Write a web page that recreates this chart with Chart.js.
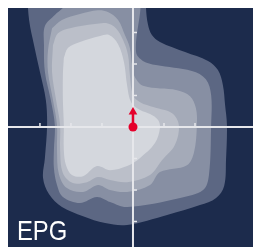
<!DOCTYPE html>
<html>
<head>
<meta charset="utf-8">
<script src="https://cdn.jsdelivr.net/npm/chart.js@4/dist/chart.umd.min.js"></script>
<style>
  html, body { margin: 0; padding: 0; background: #fff; }
</style>
</head>
<body>
<canvas id="epgChart" width="255" height="250"></canvas>
<script>
// contour levels, outer to inner, as [x, y] in axis units
const level1 = [[-3.42, 4.35], [0.42, 4.35], [0.42, 3.78], [0.48, 3.27], [0.61, 2.92], [0.87, 2.7], [1.68, 2.38],
  [2.42, 2.1], [2.74, 1.81], [2.9, 1.33], [2.97, 0.7], [3.03, 0.06], [3.0, -1.05], [2.94, -1.87], [2.68, -2.25],
  [2.16, -2.48], [1.1, -2.79], [-0.19, -3.11], [-0.9, -3.05], [-1.61, -2.83], [-2.29, -2.54], [-2.71, -2.13],
  [-2.9, -1.62], [-2.84, -0.98], [-2.77, 0.06], [-2.81, 0.86], [-3.0, 1.75], [-3.19, 2.6], [-3.35, 3.4], [-3.42, 4.35]];
const level2 = [[-2.03, 4.35], [0.1, 4.35], [0.1, 2.38], [0.32, 2.1], [0.74, 1.97], [1.9, 1.78], [2.35, 1.52],
  [2.52, 1.02], [2.52, 0.06], [2.45, -1.52], [2.26, -2.0], [1.52, -2.25], [-0.19, -2.54], [-0.74, -2.38],
  [-1.16, -2.22], [-1.71, -2.41], [-2.26, -2.22], [-2.45, -1.84], [-2.55, -1.3], [-2.55, -0.73], [-2.52, 0.06],
  [-2.65, 0.86], [-2.84, 1.75], [-2.87, 2.6], [-2.84, 3.21], [-2.52, 3.56], [-2.19, 3.87], [-2.03, 4.35]];
const level3 = [[-2.61, 3.14], [-2.29, 3.4], [-1.71, 3.59], [-1.13, 3.71], [-0.81, 3.65], [-0.48, 3.4], [-0.26, 2.92],
  [-0.1, 2.51], [-0.03, 1.97], [0.06, 1.59], [0.35, 1.3], [1.42, 1.17], [1.84, 0.98], [2.03, 0.6], [2.06, 0.06],
  [1.97, -0.79], [1.74, -1.21], [0.87, -1.43], [0.55, -1.84], [-0.19, -2.06], [-0.74, -2.0], [-1.13, -1.84],
  [-1.61, -2.06], [-2.13, -1.94], [-2.39, -1.49], [-2.45, -0.73], [-2.45, 0.06], [-2.58, 0.86], [-2.74, 1.75],
  [-2.74, 2.44], [-2.61, 3.14]];
const level4 = [[-2.58, 2.6], [-2.42, 2.98], [-2.03, 3.14], [-1.23, 3.27], [-0.87, 3.3], [-0.55, 3.14], [-0.32, 2.76],
  [-0.16, 2.29], [-0.1, 1.65], [0.0, 1.02], [0.23, 0.79], [0.68, 0.63], [1.26, 0.44], [1.48, 0.06], [1.35, -0.57],
  [0.94, -1.05], [0.55, -1.52], [-0.19, -1.75], [-0.74, -1.68], [-1.13, -1.59], [-1.48, -1.75], [-1.94, -1.78],
  [-2.26, -1.46], [-2.35, -0.73], [-2.35, 0.06], [-2.48, 0.86], [-2.61, 1.75], [-2.58, 2.6]];
const level5 = [[-2.23, 2.19], [-2.1, 2.51], [-1.71, 2.7], [-1.06, 2.89], [-0.77, 2.92], [-0.48, 2.63], [-0.29, 2.06],
  [-0.19, 1.33], [-0.06, 0.79], [0.23, 0.54], [0.55, 0.41], [0.81, 0.22], [0.87, -0.03], [0.71, -0.51],
  [0.23, -0.98], [-0.19, -1.24], [-0.74, -1.37], [-1.16, -1.24], [-1.61, -1.56], [-1.97, -1.52], [-2.16, -1.21],
  [-2.23, -0.73], [-2.23, 0.06], [-2.26, 0.86], [-2.26, 1.65], [-2.23, 2.19]];
const levelColors = ["#5c6783", "#878fa3", "#a4aab8", "#bbbfc9", "#d4d7dd"];

const centre = [0, 0];
const arrowTip = [0, 0.48];
const arrowStem = [[0, 0], [0, 0.45]];

const xTicks = [-3, -2, -1, 1, 2];
const yTicks = [-3, -2, -1, 1, 2, 3];
const xRange = [-4.03, 3.87];
const yRange = [-3.81, 3.78];

const toPoints = (arr) => arr.map((p) => ({ x: p[0], y: p[1] }));

function levelSet(arr, color) {
  return {
    label: "level",
    data: toPoints(arr),
    backgroundColor: color,
    borderWidth: 0,
    pointRadius: 0,
    fill: "shape",
    tension: 0.35,
  };
}

const epgPlugin = {
  id: "epgPlugin",
  beforeDatasetsDraw(chart) {
    const { ctx, chartArea } = chart;
    ctx.save();
    ctx.fillStyle = "#1c2b4c";
    ctx.fillRect(chartArea.left, chartArea.top, chartArea.width, chartArea.height);
    ctx.restore();
  },
  beforeDatasetDraw(chart, args) {
    if (chart.data.datasets[args.index].label !== "Direction") return;
    const { ctx, chartArea } = chart;
    const sx = chart.scales.x;
    const sy = chart.scales.y;
    const x0 = sx.getPixelForValue(0);
    const y0 = sy.getPixelForValue(0);
    ctx.save();
    ctx.strokeStyle = "#e6e7eb";
    ctx.lineWidth = 2;
    ctx.beginPath();
    ctx.moveTo(chartArea.left, y0);
    ctx.lineTo(chartArea.right, y0);
    ctx.moveTo(x0, chartArea.top);
    ctx.lineTo(x0, chartArea.bottom);
    ctx.stroke();
    ctx.lineWidth = 1.5;
    ctx.beginPath();
    for (let t of xTicks) {
      const px = sx.getPixelForValue(t);
      ctx.moveTo(px, y0);
      ctx.lineTo(px, y0 - 4);
    }
    for (let t of yTicks) {
      const py = sy.getPixelForValue(t);
      ctx.moveTo(x0, py);
      ctx.lineTo(x0 + 4, py);
    }
    ctx.stroke();
    ctx.restore();
  },
  afterDraw(chart) {
    const { ctx, chartArea } = chart;
    ctx.save();
    ctx.fillStyle = "#ffffff";
    ctx.font = "28px 'Liberation Sans', Arial, sans-serif";
    ctx.translate(chartArea.left + 9, chartArea.bottom - 7);
    ctx.scale(0.85, 1);
    ctx.fillText("EPG", 0, 0);
    ctx.restore();
  },
};

new Chart(document.getElementById("epgChart"), {
  type: "line",
  data: {
    datasets: [
      {
        label: "Centre",
        data: toPoints([centre]),
        showLine: false,
        pointRadius: 4.5,
        pointBackgroundColor: "#e5002b",
        pointBorderWidth: 0,
      },
      {
        label: "Tip",
        data: toPoints([arrowTip]),
        showLine: false,
        pointStyle: "triangle",
        pointRadius: 5,
        pointBackgroundColor: "#e5002b",
        pointBorderWidth: 0,
      },
      {
        label: "Direction",
        data: toPoints(arrowStem),
        borderColor: "#e5002b",
        borderWidth: 2.5,
        pointRadius: 0,
      },
      levelSet(level5, levelColors[4]),
      levelSet(level4, levelColors[3]),
      levelSet(level3, levelColors[2]),
      levelSet(level2, levelColors[1]),
      levelSet(level1, levelColors[0]),
    ],
  },
  options: {
    responsive: false,
    animation: false,
    events: [],
    layout: { autoPadding: false, padding: { left: 8, top: 8, right: 2, bottom: 3 } },
    scales: {
      x: { type: "linear", min: xRange[0], max: xRange[1], display: false },
      y: { type: "linear", min: yRange[0], max: yRange[1], display: false },
    },
    plugins: {
      legend: { display: false },
      tooltip: { enabled: false },
    },
  },
  plugins: [epgPlugin],
});
</script>
</body>
</html>
